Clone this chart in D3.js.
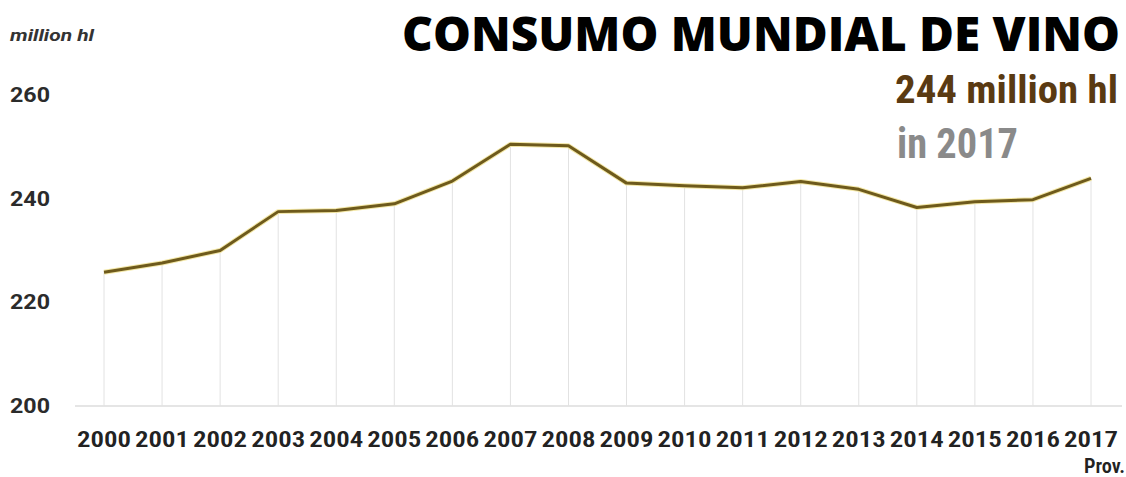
<!DOCTYPE html>
<html>
<head>
<meta charset="utf-8">
<script src="https://cdn.jsdelivr.net/npm/d3@7"></script>
<style>
  body { margin: 0; background: #fff; }
  svg { display: block; }
</style>
</head>
<body>
<div id="chart"></div>
<script>
// data (million hl)
let years = ["2000","2001","2002","2003","2004","2005","2006","2007","2008",
             "2009","2010","2011","2012","2013","2014","2015","2016","2017"];
let consumption = [225.8, 227.6, 230.0, 237.5, 237.7, 239.0, 243.4, 250.5, 250.2,
                   243.0, 242.5, 242.1, 243.3, 241.8, 238.3, 239.4, 239.8, 243.9];
let yTicks = [200, 220, 240, 260];

let width = 1126, height = 477;
let margin = {top: 95, right: 35, bottom: 71, left: 104};
let condensed = "'Roboto Condensed', 'Liberation Sans Narrow', Roboto, Arial, sans-serif";

let svg = d3.select("#chart").append("svg")
    .attr("width", width)
    .attr("height", height);

let x = d3.scalePoint()
    .domain(years)
    .range([margin.left, width - margin.right]);

let y = d3.scaleLinear()
    .domain([200, 260])
    .range([height - margin.bottom, margin.top]);

// baseline
svg.append("line")
    .attr("x1", 75).attr("x2", 1122)
    .attr("y1", y(200)).attr("y2", y(200))
    .attr("stroke", "#dcdcdc")
    .attr("stroke-width", 1.5);

// drop lines
svg.selectAll(".drop")
    .data(years)
    .enter()
    .append("line")
    .attr("class", "drop")
    .attr("x1", d => x(d)).attr("x2", d => x(d))
    .attr("y1", (d, i) => y(consumption[i]))
    .attr("y2", y(200))
    .attr("stroke", "#e2e2e2")
    .attr("stroke-width", 1);

// y labels
svg.selectAll(".ylab")
    .data(yTicks)
    .enter()
    .append("text")
    .attr("class", "ylab")
    .attr("x", 10)
    .attr("y", d => y(d) + 7)
    .attr("font-family", "Roboto, Arial, sans-serif")
    .attr("font-weight", "bold")
    .attr("font-size", 20)
    .attr("textLength", 40)
    .attr("lengthAdjust", "spacingAndGlyphs")
    .attr("fill", "#2b2b2b")
    .text(d => d);

// x labels
svg.selectAll(".xlab")
    .data(years)
    .enter()
    .append("text")
    .attr("class", "xlab")
    .attr("x", d => x(d))
    .attr("y", 447)
    .attr("text-anchor", "middle")
    .attr("font-family", condensed)
    .attr("font-weight", 600)
    .attr("font-size", 22)
    .attr("textLength", 54)
    .attr("lengthAdjust", "spacingAndGlyphs")
    .attr("fill", "#222")
    .text(d => d);

svg.append("text")
    .attr("x", 1125)
    .attr("y", 473)
    .attr("text-anchor", "end")
    .attr("font-family", condensed)
    .attr("font-weight", 600)
    .attr("font-size", 21)
    .attr("textLength", 41)
    .attr("lengthAdjust", "spacingAndGlyphs")
    .attr("fill", "#222")
    .text("Prov.");

// the line, with a faint yellow halo
let line = d3.line()
    .x((d, i) => x(years[i]))
    .y(d => y(d));

svg.append("path")
    .datum(consumption)
    .attr("d", line)
    .attr("fill", "none")
    .attr("stroke", "#f3e7a6")
    .attr("stroke-width", 5)
    .attr("stroke-linejoin", "round");

svg.append("path")
    .datum(consumption)
    .attr("d", line)
    .attr("fill", "none")
    .attr("stroke", "#6e5a1c")
    .attr("stroke-width", 3)
    .attr("stroke-linejoin", "round");

// unit label
svg.append("text")
    .attr("x", 10)
    .attr("y", 41)
    .attr("font-family", "Roboto, Arial, sans-serif")
    .attr("font-style", "italic")
    .attr("font-weight", "bold")
    .attr("font-size", 16)
    .attr("textLength", 84)
    .attr("lengthAdjust", "spacingAndGlyphs")
    .attr("fill", "#333")
    .text("million hl");

// title and callouts
svg.append("text")
    .attr("x", 1120)
    .attr("y", 51)
    .attr("text-anchor", "end")
    .attr("font-family", "'Open Sans', 'DejaVu Sans', sans-serif")
    .attr("font-weight", 800)
    .attr("font-size", 48)
    .attr("textLength", 718)
    .attr("lengthAdjust", "spacingAndGlyphs")
    .attr("fill", "#000")
    .text("CONSUMO MUNDIAL DE VINO");

svg.append("text")
    .attr("x", 895)
    .attr("y", 103)
    .attr("font-family", condensed)
    .attr("font-weight", "bold")
    .attr("font-size", 39)
    .attr("textLength", 223)
    .attr("lengthAdjust", "spacingAndGlyphs")
    .attr("fill", "#5a3a12")
    .text("244 million hl");

svg.append("text")
    .attr("x", 897)
    .attr("y", 158)
    .attr("font-family", condensed)
    .attr("font-weight", "bold")
    .attr("font-size", 43)
    .attr("textLength", 121)
    .attr("lengthAdjust", "spacingAndGlyphs")
    .attr("fill", "#8a8a8a")
    .text("in 2017");
</script>
</body>
</html>
